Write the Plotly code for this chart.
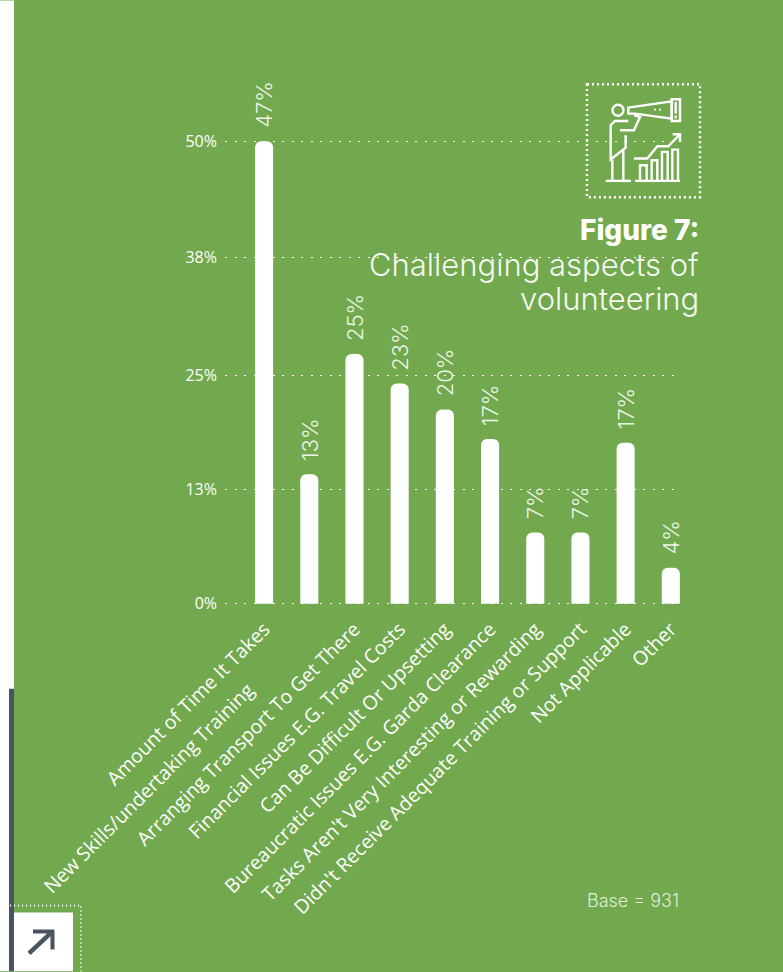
import plotly.graph_objects as go

categories = ["Amount of Time It Takes", "New Skills/undertaking Training", "Arranging Transport To Get There",
              "Financial Issues E.G. Travel Costs", "Can Be Difficult Or Upsetting", "Bureaucratic Issues E.G. Garda Clearance",
              "Tasks Aren't Very Interesting or Rewarding", "Didn't Receive Adequate Training or Support", "Not Applicable", "Other"]
bar_heights = [50, 14, 27, 23.8, 21, 17.8, 7.7, 7.7, 17.4, 3.9]
value_labels = ["47%", "13%", "25%", "23%", "20%", "17%", "7%", "7%", "17%", "4%"]
tick_vals = [0, 12.4, 24.7, 37.4, 50]
tick_text = ["0%", "13%", "25%", "38%", "50%"]
category_ticks = [c + "\u00A0" * 17 if c.startswith("New Skills") else c for c in categories]

GREEN = "#72A94E"
DARK = "#4A5460"
W, H = 783, 972
L, R = 225, 681
PX_PER_UNIT = (604 - 141) / 50
T, B = 141 - PX_PER_UNIT, 604 + PX_PER_UNIT
FONT = "Inter"

def X(p):
    return (p - L) / (R - L)

def Y(p):
    return (B - p) / (B - T)

fig = go.Figure(go.Bar(
    x=categories, y=bar_heights, width=0.4, marker=dict(color="white", line_width=0, cornerradius=6),
    cliponaxis=False, hoverinfo="skip"))

shapes = []

def rect(x0, y0, x1, y1, color, layer="below"):
    shapes.append(dict(type="rect", xref="paper", yref="paper", x0=X(x0), x1=X(x1), y0=Y(y0), y1=Y(y1),
                       fillcolor=color, line_width=0, layer=layer))

def poly(points, close=False, width=2.4, dash="solid", color="white", fill=None):
    d = "M" + " L".join(f"{X(a):.5f},{Y(b):.5f}" for a, b in points) + (" Z" if close else "")
    shapes.append(dict(type="path", xref="paper", yref="paper", path=d,
                       line=dict(color=color, width=width, dash=dash), fillcolor=fill, layer="above"))

def zoomed(pts):
    return [(560 + a / 3, 70 + b / 3) for a, b in pts]

rect(0, 0, 14, H, "white")
rect(9, 689, 14, H, DARK)
rect(14, 913, 73, H, "white", "above")
poly([(10, 906), (81, 906), (81, H)], width=2, dash="1px,3px")
poly([(29, 954), (52.5, 932)], width=4.5, color=DARK)
poly([(33, 932), (52.5, 932), (52.5, 950)], width=4, color=DARK)

# icon
poly([(587, 84), (700, 84), (700, 197), (587, 197)], close=True, width=2.5, dash="2px,3px")
shapes.append(dict(type="circle", xref="paper", yref="paper", x0=X(612.5), x1=X(623.5), y0=Y(104.5), y1=Y(115.5),
                   line=dict(color="white", width=2.4), layer="above"))
for pts, c in [
    ([(205, 112), (335, 93), (335, 145), (225, 130), (205, 130)], True),
    ([(335, 87), (360, 87), (360, 152), (335, 152)], True),
    ([(222, 135), (240, 140), (222, 180), (180, 180)], False),
    ([(205, 152), (165, 152), (152, 165), (152, 268), (197, 232), (197, 195)], False),
    ([(157, 268), (157, 332)], False),
    ([(190, 240), (190, 332)], False),
    ([(137, 332), (213, 332)], False),
    ([(225, 332), (360, 332)], False),
    ([(240, 330), (240, 285), (260, 285), (260, 330)], False),
    ([(275, 330), (275, 270), (292, 270), (292, 330)], False),
    ([(306, 330), (306, 245), (323, 245), (323, 330)], False),
    ([(337, 330), (337, 238), (354, 238), (354, 330)], False),
    ([(222, 265), (262, 265), (292, 228), (325, 228), (360, 192)], False),
    ([(338, 192), (360, 192), (360, 215)], False),
    ([(347, 95), (347, 130)], False),
    ([(347, 136), (347, 144)], False),
    ([(282, 118), (310, 118)], False),
]:
    w = 1.8 if pts[0] == (282, 118) else 2.4
    d = "2px,3px" if pts[0] == (282, 118) else "solid"
    poly(zoomed(pts), close=c, width=w, dash=d)

annotations = [
    dict(text="Figure 7:", x=X(701), y=Y(230), font=dict(family=FONT, size=28, color="white", weight=800)),
    dict(text="Challenging aspects of", x=X(701), y=Y(264), font=dict(family=FONT, size=31, color="rgba(255,255,255,0.95)", weight=300)),
    dict(text="volunteering", x=X(701), y=Y(298), font=dict(family=FONT, size=31, color="rgba(255,255,255,0.95)", weight=300)),
    dict(text="Base = 931", x=X(681), y=Y(901), font=dict(family=FONT, size=18, color="rgba(255,255,255,0.8)", weight=300)),
]
for a in annotations:
    a.update(xref="paper", yref="paper", xanchor="right", yanchor="middle", showarrow=False)

for cat, h, lab in zip(categories, bar_heights, value_labels):
    annotations.append(dict(x=cat, y=h, xref="x", yref="y", text=lab, textangle=-90, showarrow=False,
                            yanchor="bottom", xanchor="center", yshift=11,
                            font=dict(family=FONT, size=22, color="rgba(255,255,255,0.9)", weight=300)))

fig.update_layout(
    width=W, height=H, margin=dict(l=L, r=W - R, t=T, b=H - B, pad=0),
    paper_bgcolor=GREEN, plot_bgcolor="rgba(0,0,0,0)", showlegend=False,
    shapes=shapes, annotations=annotations,
    xaxis=dict(type="category", range=[-0.865, 9.225], showgrid=False, zeroline=False, showline=False, ticks="",
               tickmode="array", tickvals=categories, ticktext=category_ticks,
               tickangle=-45, tickfont=dict(family="Open Sans", size=19.5, color="white"), automargin=False),
    yaxis=dict(range=[-1, 51], tickvals=tick_vals, ticktext=tick_text, gridcolor="white", griddash="2px,7.5px",
               gridwidth=1.4, zeroline=False, showline=False, ticks="", ticklabelstandoff=7,
               tickfont=dict(family="Open Sans", size=16, color="white"), automargin=False),
)
fig.write_html("out.html", config={"displayModeBar": False},
               post_script="document.body.style.margin='0';window.dispatchEvent(new Event('resize'));")
